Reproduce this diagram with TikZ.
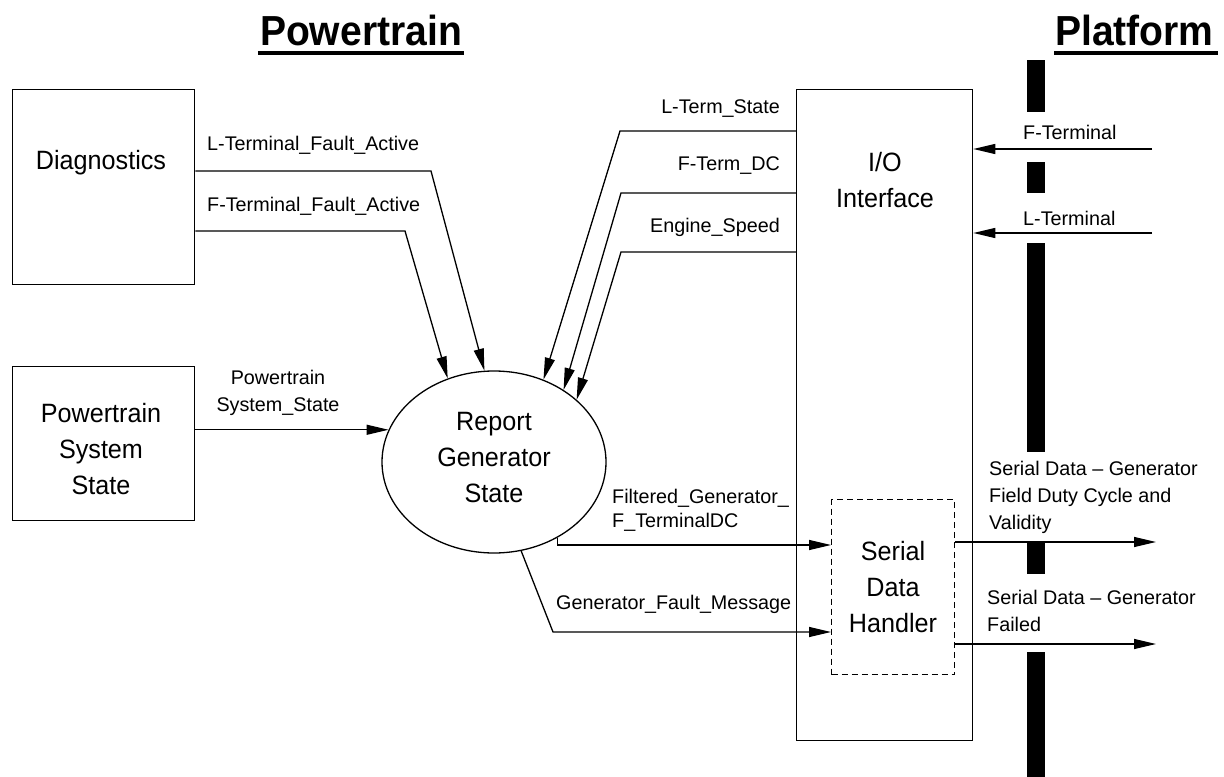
\documentclass[tikz,border=0pt]{standalone}
\usepackage{fontspec}
\setmainfont{Liberation Sans}
\newfontfamily\headfont[FakeStretch=0.93]{Liberation Sans}
\newfontfamily\blockfont[FakeStretch=0.95]{Liberation Sans}
\usetikzlibrary{arrows.meta,shapes.geometric}

\tikzset{
  box/.style={draw, line width=1.3bp, inner sep=0pt},
  dashbox/.style={draw, line width=1.1bp, dash pattern=on 6bp off 4bp, inner sep=0pt},
  big/.style={font=\blockfont\fontsize{26.5bp}{36bp}\selectfont, align=center, inner sep=0pt},
  lbl/.style={font=\fontsize{19.75bp}{27bp}\selectfont, inner sep=0pt},
  title/.style={font=\headfont\fontsize{42bp}{42bp}\selectfont\bfseries, inner sep=0pt},
  uline/.style={line width=3.5bp},
  flow/.style={line width=1.3bp, -{Triangle[length=22bp,width=10bp]}},
}

\begin{document}
\begin{tikzpicture}[x=1bp,y=-1bp]
\useasboundingbox (0,0) rectangle (1224,777);

% headings
\node[title, anchor=base] (ptitle) at (361,46) {Powertrain};
\draw[uline] ([xshift=-2bp,yshift=-7bp]ptitle.base west) -- ([xshift=2bp,yshift=-7bp]ptitle.base east);
\node[title, anchor=base west] (ftitle) at (1055,46) {Platform};
\draw[uline] ([xshift=-1bp,yshift=-7bp]ftitle.base west) -- ([xshift=4bp,yshift=-7bp]ftitle.base east);

% platform boundary
\fill (1027,60) rectangle (1045,112);
\fill (1027,162) rectangle (1045,193);
\fill (1027,243) rectangle (1045,452);
\fill (1027,543) rectangle (1045,574);
\fill (1027,652) rectangle (1045,777);

% blocks
\node[box, anchor=north west, minimum width=182bp, minimum height=195bp] (diag) at (12,89) {};
\node[big] (diagtxt) at (101,163) {Diagnostics};

\node[box, anchor=north west, minimum width=182bp, minimum height=154bp] (pss) at (12,366) {};
\node[big] (psstxt) at (101,449) {Powertrain\\System\\State};

\node[box, ellipse, minimum width=224bp, minimum height=182bp] (rg) at (494,462) {};
\node[big] (rgtxt) at (494,458) {Report\\Generator\\State};

\node[box, anchor=north west, minimum width=176bp, minimum height=651bp] (io) at (796,89) {};
\node[big] (iotxt) at (885,180) {I/O\\Interface};

\node[dashbox, big, anchor=north west, minimum width=123bp, minimum height=175bp] (sdh) at (831,499) {Serial\\Data\\Handler};

% inputs to the report generator
\coordinate (k1) at (431,171);
\draw[flow] (diag.east |- k1) -- (k1) -- (rg.96);
\coordinate (k2) at (405,231);
\draw[flow] (diag.east |- k2) -- (k2) -- (rg.119);
\draw[flow] (pss.east |- rg.163) -- (rg.163);

\coordinate (k3) at (620,131);
\draw[flow] (io.west |- k3) -- (k3) -- (rg.59);
\coordinate (k4) at (621,193);
\draw[flow] (io.west |- k4) -- (k4) -- (rg.46);
\coordinate (k5) at (621,252);
\draw[flow] (io.west |- k5) -- (k5) -- (rg.37);

% outputs of the report generator
\coordinate (k6) at (0,545);
\draw[flow] (rg.-50) |- (sdh.west |- k6);
\coordinate (k7) at (553,632);
\draw[flow] (rg.-73) -- (k7) -- (sdh.west |- k7);

% platform signals
\coordinate (fin) at (1152,149);
\draw[flow] (fin) -- (io.east |- fin);
\coordinate (lin) at (1152,233);
\draw[flow] (lin) -- (io.east |- lin);
\coordinate (out1) at (1156,542);
\draw[flow] (sdh.east |- out1) -- (out1);
\coordinate (out2) at (1156,644);
\draw[flow] (sdh.east |- out2) -- (out2);

% signal names
\node[lbl, anchor=west] (n1) at (207,145) {L-Terminal\_Fault\_Active};
\node[lbl, anchor=west] (n2) at (207,206) {F-Terminal\_Fault\_Active};
\node[lbl, align=center] (n3) at (278,393) {Powertrain\\System\_State};
\node[lbl, anchor=east] (n4) at (780,109) {L-Term\_State};
\node[lbl, anchor=east] (n5) at (780,166) {F-Term\_DC};
\node[lbl, anchor=east] (n6) at (780,227) {Engine\_Speed};
\node[lbl, anchor=west] (n7) at (1023,132) {F-Terminal};
\node[lbl, anchor=west] (n8) at (1023,218) {L-Terminal};
\node[lbl, font=\fontsize{19.75bp}{24bp}\selectfont, align=left, anchor=west] (n9) at (612,510) {Filtered\_Generator\_\\F\_TerminalDC};
\node[lbl, anchor=west] (n10) at (556,604) {Generator\_Fault\_Message};
\node[lbl, align=left, anchor=west] (n11) at (989,497) {Serial Data – Generator\\Field Duty Cycle and\\Validity};
\node[lbl, align=left, anchor=west] (n12) at (987,611) {Serial Data – Generator\\Failed};
\end{tikzpicture}
\end{document}
